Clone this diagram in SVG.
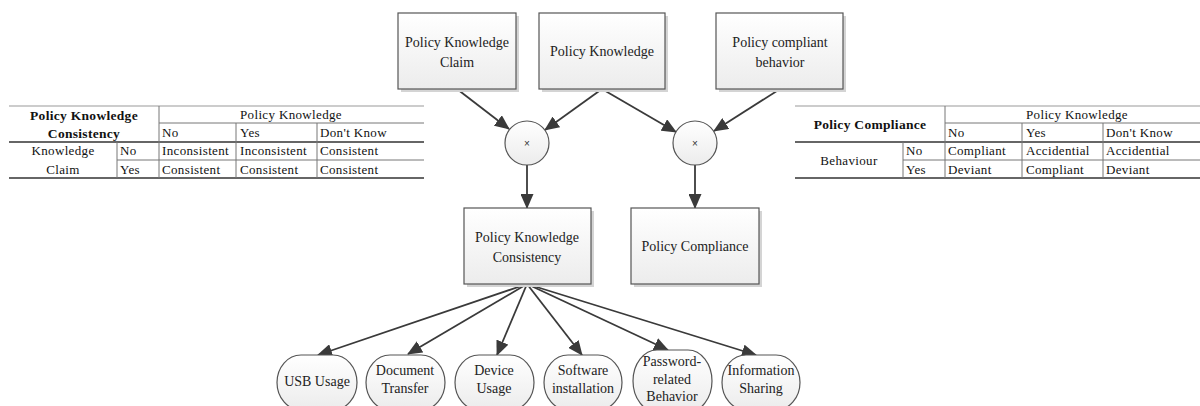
<svg xmlns="http://www.w3.org/2000/svg" width="1200" height="406" viewBox="0 0 1200 406">
  <defs>
    <linearGradient id="boxFill" x1="0" y1="0" x2="0" y2="1">
      <stop offset="0" stop-color="#ffffff"/>
      <stop offset="1" stop-color="#ececec"/>
    </linearGradient>
    <marker id="arrow" markerUnits="userSpaceOnUse" markerWidth="15" markerHeight="13" viewBox="0 0 15 13" refX="14" refY="6.5" orient="auto">
      <path d="M0,0 L15,6.5 L0,13 z" fill="#3a3a3a"/>
    </marker>
  </defs>
  <style>
    .box { fill: url(#boxFill); stroke: #555555; stroke-width: 1.2; }
    .shadow { fill: #d4d4d4; }
    .lbl { font-family: "Liberation Serif", "Times New Roman", serif; font-size: 14px; fill: #222222; text-anchor: middle; }
    .op { font-family: "Liberation Sans", Arial, sans-serif; font-size: 10px; fill: #333333; text-anchor: middle; }
    .edge { stroke: #3a3a3a; stroke-width: 1.8; fill: none; marker-end: url(#arrow); }
    .tl { stroke: #777777; stroke-width: 1; fill: none; }
    .tlt { stroke: #999999; stroke-width: 1; fill: none; }
    .tlh { stroke: #333333; stroke-width: 1.6; fill: none; }
    .tt { font-family: "Liberation Serif", "Times New Roman", serif; font-size: 13px; fill: #111111; letter-spacing: 0.35px; }
    .tb { font-family: "Liberation Serif", "Times New Roman", serif; font-size: 13.5px; font-weight: bold; fill: #111111; letter-spacing: 0.3px; text-anchor: middle; }
    .tc { text-anchor: middle; }
  </style>

  <!-- truth table: policy knowledge consistency -->
  <g id="table-consistency">
    <line class="tlt" x1="9" y1="106" x2="424" y2="106"/>
    <line class="tl" x1="159" y1="123" x2="424" y2="123"/>
    <line class="tlh" x1="9" y1="142" x2="424" y2="142"/>
    <line class="tl" x1="117" y1="160" x2="424" y2="160"/>
    <line class="tlh" x1="9" y1="178" x2="424" y2="178"/>
    <line class="tl" x1="159" y1="106" x2="159" y2="178"/>
    <line class="tl" x1="117" y1="142" x2="117" y2="178"/>
    <line class="tl" x1="236" y1="123" x2="236" y2="178"/>
    <line class="tl" x1="317" y1="123" x2="317" y2="178"/>
    <text class="tb" x="84" y="120">Policy Knowledge</text>
    <text class="tb" x="84" y="138">Consistency</text>
    <text class="tt tc" x="291" y="119">Policy Knowledge</text>
    <text class="tt" x="162" y="137">No</text>
    <text class="tt" x="240" y="137">Yes</text>
    <text class="tt" x="320" y="137">Don't Know</text>
    <text class="tt tc" x="63" y="155">Knowledge</text>
    <text class="tt" x="120" y="155">No</text>
    <text class="tt" x="162" y="155">Inconsistent</text>
    <text class="tt" x="240" y="155">Inconsistent</text>
    <text class="tt" x="320" y="155">Consistent</text>
    <text class="tt tc" x="63" y="174">Claim</text>
    <text class="tt" x="120" y="174">Yes</text>
    <text class="tt" x="162" y="174">Consistent</text>
    <text class="tt" x="240" y="174">Consistent</text>
    <text class="tt" x="320" y="174">Consistent</text>
  </g>

  <!-- truth table: policy compliance -->
  <g id="table-compliance">
    <line class="tlt" x1="795" y1="106" x2="1200" y2="106"/>
    <line class="tl" x1="945" y1="123" x2="1200" y2="123"/>
    <line class="tlh" x1="795" y1="142" x2="1200" y2="142"/>
    <line class="tl" x1="903" y1="160" x2="1200" y2="160"/>
    <line class="tlh" x1="795" y1="178" x2="1200" y2="178"/>
    <line class="tl" x1="945" y1="106" x2="945" y2="178"/>
    <line class="tl" x1="903" y1="142" x2="903" y2="178"/>
    <line class="tl" x1="1022" y1="123" x2="1022" y2="178"/>
    <line class="tl" x1="1103" y1="123" x2="1103" y2="178"/>
    <text class="tb" x="870" y="129">Policy Compliance</text>
    <text class="tt tc" x="1077" y="119">Policy Knowledge</text>
    <text class="tt" x="948" y="137">No</text>
    <text class="tt" x="1026" y="137">Yes</text>
    <text class="tt" x="1106" y="137">Don't Know</text>
    <text class="tt tc" x="849" y="165">Behaviour</text>
    <text class="tt" x="906" y="155">No</text>
    <text class="tt" x="948" y="155">Compliant</text>
    <text class="tt" x="1026" y="155">Accidential</text>
    <text class="tt" x="1106" y="155">Accidential</text>
    <text class="tt" x="906" y="174">Yes</text>
    <text class="tt" x="948" y="174">Deviant</text>
    <text class="tt" x="1026" y="174">Compliant</text>
    <text class="tt" x="1106" y="174">Deviant</text>
  </g>

  <!-- connectors -->
  <g id="connectors">
    <line class="edge" x1="457" y1="89" x2="509" y2="129"/>
    <line class="edge" x1="602" y1="89" x2="545" y2="130"/>
    <line class="edge" x1="602" y1="89" x2="676" y2="132"/>
    <line class="edge" x1="780" y1="89" x2="714" y2="131"/>
    <line class="edge" x1="527" y1="165" x2="527" y2="208"/>
    <line class="edge" x1="695" y1="165" x2="695" y2="208"/>
    <line class="edge" x1="527" y1="284" x2="318" y2="355"/>
    <line class="edge" x1="527" y1="284" x2="408" y2="354"/>
    <line class="edge" x1="527" y1="284" x2="497" y2="355"/>
    <line class="edge" x1="527" y1="284" x2="582" y2="355"/>
    <line class="edge" x1="527" y1="284" x2="668" y2="350"/>
    <line class="edge" x1="527" y1="284" x2="756" y2="355"/>
  </g>

  <!-- source nodes -->
  <g id="node-claim">
    <rect class="shadow" x="401" y="16" width="118" height="76"/>
    <rect class="box" x="398" y="13" width="118" height="76"/>
    <text class="lbl" x="457" y="47">Policy Knowledge</text>
    <text class="lbl" x="457" y="67">Claim</text>
  </g>
  <g id="node-knowledge">
    <rect class="shadow" x="542" y="16" width="126" height="76"/>
    <rect class="box" x="539" y="13" width="126" height="76"/>
    <text class="lbl" x="602" y="56">Policy Knowledge</text>
  </g>
  <g id="node-behavior">
    <rect class="shadow" x="719" y="16" width="127" height="76"/>
    <rect class="box" x="716" y="13" width="127" height="76"/>
    <text class="lbl" x="780" y="47">Policy compliant</text>
    <text class="lbl" x="780" y="67">behavior</text>
  </g>

  <!-- product operators -->
  <g id="op-consistency">
    <circle class="box" cx="527" cy="143" r="22"/>
    <text class="op" x="527" y="146.5">×</text>
  </g>
  <g id="op-compliance">
    <circle class="box" cx="695" cy="143" r="22"/>
    <text class="op" x="695" y="146.5">×</text>
  </g>

  <!-- derived nodes -->
  <g id="node-consistency">
    <rect class="shadow" x="467" y="211" width="127" height="76"/>
    <rect class="box" x="464" y="208" width="127" height="76"/>
    <text class="lbl" x="527" y="242">Policy Knowledge</text>
    <text class="lbl" x="527" y="262">Consistency</text>
  </g>
  <g id="node-compliance">
    <rect class="shadow" x="634" y="211" width="128" height="76"/>
    <rect class="box" x="631" y="208" width="128" height="76"/>
    <text class="lbl" x="695" y="251">Policy Compliance</text>
  </g>

  <!-- behaviour domains -->
  <g id="node-usb">
    <rect class="box" x="277" y="355" width="80" height="55" rx="24" ry="27.5"/>
    <text class="lbl" x="317" y="386">USB Usage</text>
  </g>
  <g id="node-document">
    <rect class="box" x="366" y="355" width="79" height="55" rx="24" ry="27.5"/>
    <text class="lbl" x="405" y="375">Document</text>
    <text class="lbl" x="405" y="393">Transfer</text>
  </g>
  <g id="node-device">
    <rect class="box" x="455" y="355" width="79" height="55" rx="24" ry="27.5"/>
    <text class="lbl" x="494" y="375">Device</text>
    <text class="lbl" x="494" y="393">Usage</text>
  </g>
  <g id="node-software">
    <rect class="box" x="544" y="355" width="78" height="55" rx="24" ry="27.5"/>
    <text class="lbl" x="583" y="375">Software</text>
    <text class="lbl" x="583" y="393">installation</text>
  </g>
  <g id="node-password">
    <rect class="box" x="633" y="350" width="79" height="62" rx="24" ry="31"/>
    <text class="lbl" x="672" y="366">Password-</text>
    <text class="lbl" x="672" y="384">related</text>
    <text class="lbl" x="672" y="401">Behavior</text>
  </g>
  <g id="node-sharing">
    <rect class="box" x="722" y="355" width="78" height="55" rx="24" ry="27.5"/>
    <text class="lbl" x="761" y="375">Information</text>
    <text class="lbl" x="761" y="393">Sharing</text>
  </g>
</svg>
